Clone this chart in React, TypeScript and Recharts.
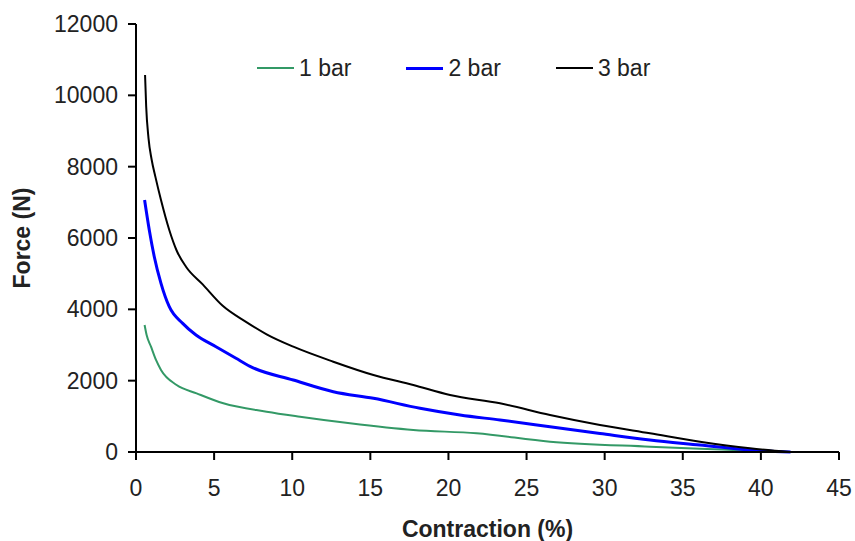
import { Label, Legend, Line, LineChart, XAxis, YAxis } from "recharts";

// contraction (%) vs force (N)
const bar1 = [
  [0.55, 3560], [0.68, 3280], [0.96, 2952], [1.28, 2580], [1.6, 2300],
  [2.6, 1878], [3.88, 1645], [5.59, 1365], [8.36, 1130], [10.5, 990],
  [13.7, 805], [17.75, 617], [21.8, 524], [26.5, 289], [32.9, 149],
  [36.1, 90], [39.3, 36], [41, 0],
];

const bar2 = [
  [0.55, 7065], [0.85, 6224], [1.17, 5475], [1.6, 4730], [2.13, 4074],
  [2.99, 3607], [3.84, 3280], [5.12, 2952], [6.4, 2627], [7.3, 2400],
  [10.07, 2018], [12.63, 1691], [15.2, 1505], [18.18, 1225], [20.74, 1037],
  [23.3, 897], [26.5, 709], [29.7, 520], [32.9, 336], [36.1, 196],
  [39.3, 56], [41.9, 0],
];

const bar3 = [
  [0.58, 10570], [0.65, 9700], [0.8, 8800], [1.0, 8200], [1.25, 7700],
  [1.6, 7065], [2.13, 6224], [2.6, 5650], [3.2, 5195], [4.27, 4700],
  [5.55, 4100], [7.04, 3650], [8.36, 3300], [10.07, 2953], [12.63, 2532],
  [15.2, 2159], [17.75, 1878], [20.1, 1598], [23.3, 1365], [26.5, 1037],
  [29.7, 757], [32.9, 524], [36.1, 289], [39.3, 104], [41.9, 0],
];

const xTicks = [0, 5, 10, 15, 20, 25, 30, 35, 40, 45];
const yTicks = [0, 2000, 4000, 6000, 8000, 10000, 12000];

const series = [
  { name: "1 bar", data: bar1, color: "#339966", width: 2 },
  { name: "2 bar", data: bar2, color: "#0000ff", width: 3 },
  { name: "3 bar", data: bar3, color: "#000000", width: 2 },
];

const toRows = (pts: number[][]) => pts.map(([x, f]) => ({ x, f }));

const font = '"Liberation Sans", Arial, sans-serif';
const tickStyle = { fill: "#222", fontSize: 23, fontFamily: font };
const titleStyle = { fill: "#222", fontSize: 23, fontWeight: "bold", fontFamily: font };

function LegendBox() {
  return (
    <div style={{ display: "flex", fontFamily: font, fontSize: 23, color: "#222", lineHeight: "26px" }}>
      {series.map((s) => (
        <div key={s.name} style={{ display: "flex", alignItems: "center", marginRight: 55 }}>
          <span
            style={{
              display: "inline-block",
              width: 37,
              height: s.width,
              background: s.color,
              marginRight: 5,
            }}
          />
          <span>{s.name}</span>
        </div>
      ))}
    </div>
  );
}

export default function App() {
  return (
    <div style={{ position: "absolute", left: 0, top: 0, width: 855, height: 541, background: "#fff" }}>
      <LineChart width={855} height={541} margin={{ top: 24, right: 16, bottom: 0, left: 36 }}>
        <XAxis
          type="number"
          dataKey="x"
          domain={[0, 45]}
          ticks={xTicks}
          allowDuplicatedCategory={false}
          height={89}
          tickSize={8}
          tickMargin={20}
          tick={tickStyle}
          stroke="#000"
          strokeWidth={2}
        >
          <Label value="Contraction (%)" position="insideBottom" offset={4} style={titleStyle} />
        </XAxis>
        <YAxis
          type="number"
          dataKey="f"
          domain={[0, 12000]}
          ticks={yTicks}
          width={100}
          tickSize={8}
          tickMargin={10}
          tick={tickStyle}
          stroke="#000"
          strokeWidth={2}
        >
          <Label
            value="Force (N)"
            angle={-90}
            position="insideLeft"
            offset={-14}
            style={{ ...titleStyle, textAnchor: "middle" }}
          />
        </YAxis>
        <Legend
          verticalAlign="middle"
          align="center"
          content={() => <LegendBox />}
          wrapperStyle={{ top: 55, left: 257, width: "auto" }}
        />
        {series.map((s) => (
          <Line
            key={s.name}
            name={s.name}
            data={toRows(s.data)}
            dataKey="f"
            type="monotone"
            stroke={s.color}
            strokeWidth={s.width}
            dot={false}
            isAnimationActive={false}
          />
        ))}
      </LineChart>
    </div>
  );
}
